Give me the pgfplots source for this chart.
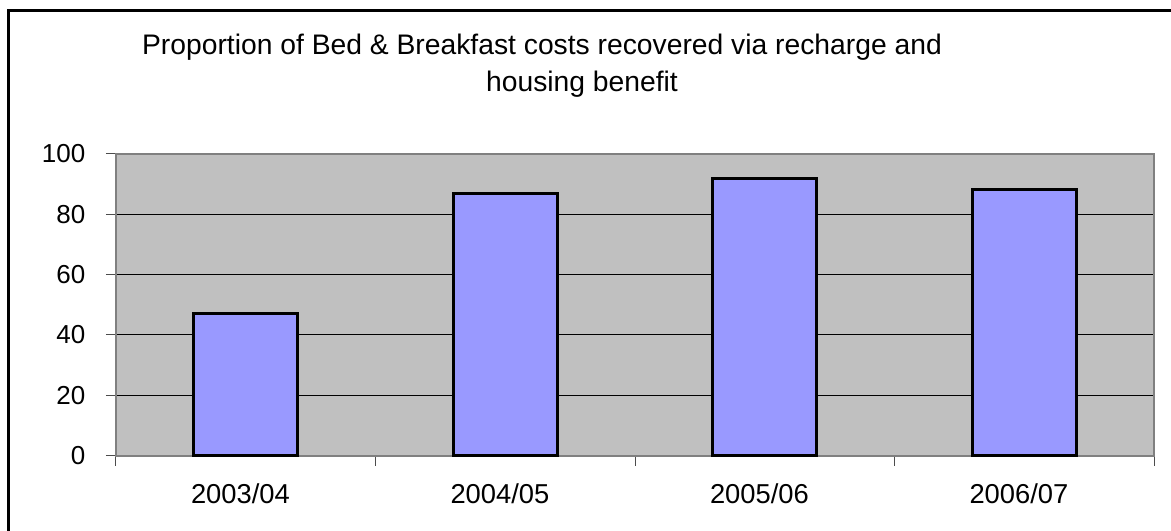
\documentclass[border=0pt]{standalone}
\usepackage{pgfplots}
\pgfplotsset{compat=1.18}
\usepackage{fontspec}
\setmainfont{Liberation Sans}
\definecolor{plotbg}{HTML}{C0C0C0}
\definecolor{barfill}{HTML}{9999FF}
\definecolor{axgray}{HTML}{808080}
\begin{document}
\begin{tikzpicture}
\path[use as bounding box] (0,0) rectangle (878.25pt,398.25pt);
\fill[white] (0,0) rectangle (878.25pt,398.25pt);
\draw[line width=2.25pt] (6pt,0) -- (6pt,390pt) -- (878.25pt,390pt);
\begin{axis}[
  at={(87pt,56.5pt)}, anchor=south west,
  scale only axis,
  width=778.5pt, height=226.3pt,
  xmin=-0.5, xmax=3.5, ymin=0, ymax=100,
  axis background/.style={fill=plotbg},
  axis line style={draw=axgray, line width=1.5pt},
  ytick={0,20,40,60,80,100},
  ymajorgrids,
  major grid style={black, line width=0.75pt},
  xtick={0,1,2,3},
  xticklabels={2003/04,2004/05,2005/06,2006/07},
  minor xtick={-0.5,0.5,1.5,2.5,3.5},
  major x tick style={draw=none},
  minor x tick style={draw=black!70, line width=0.75pt},
  major y tick style={draw=black!70, line width=0.75pt},
  tick align=outside,
  major tick length=7.5pt, minor tick length=7.5pt,
  xtick pos=bottom, ytick pos=left,
  /pgf/number format/assume math mode=true,
  yticklabel style={font=\fontsize{19.5pt}{22pt}\selectfont, text=black, xshift=-12pt},
  xticklabel style={font=\fontsize{20.5pt}{23pt}\selectfont, text=black, yshift=-10pt, xshift=-4pt},
  clip=false,
]
\addplot[ybar, bar width=0.4, fill=barfill, draw=black, line width=2.25pt]
  coordinates {(0,47.2) (1,86.8) (2,91.8) (3,88.1)};
\end{axis}
\node[font=\fontsize{21.2pt}{24pt}\selectfont] at (406.5pt,363pt) {Proportion of Bed \& Breakfast costs recovered via recharge and};
\node[font=\fontsize{21.2pt}{24pt}\selectfont] at (436.5pt,335.25pt) {housing benefit};
\end{tikzpicture}
\end{document}
